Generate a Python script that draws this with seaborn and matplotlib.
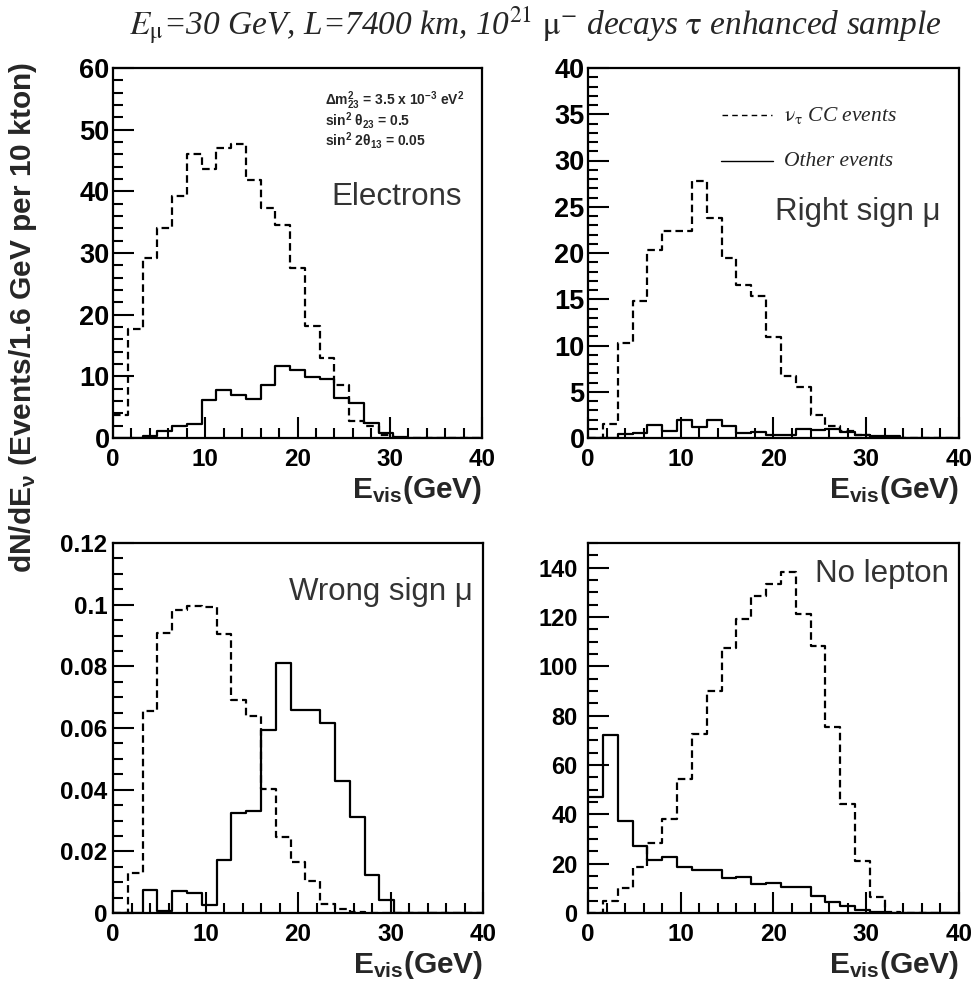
import pandas as pd
import matplotlib
matplotlib.use("Agg")
import matplotlib.pyplot as plt
from matplotlib.ticker import MultipleLocator, FuncFormatter
import seaborn as sns

# Visible-energy binning: 25 bins of 1.6 GeV from 0 to 40 GeV
bin_width = 1.6
n_bins = 25
edges = [round(k * bin_width, 4) for k in range(n_bins + 1)]

# Events per bin, nu_tau CC (dashed) and other events (solid)
electrons_tau = [3.8, 17.6, 29.2, 34.0, 39.3, 46.0, 43.7, 47.0, 47.6, 41.8,
                 37.3, 34.6, 27.5, 18.2, 13.0, 8.6, 2.7, 1.9, 0.5, 0.0,
                 0.0, 0.0, 0.0, 0.0, 0.0]
electrons_other = [0.0, 0.0, 0.4, 1.2, 2.0, 2.3, 6.2, 7.8, 6.9, 6.3,
                   8.6, 11.7, 11.1, 9.9, 9.6, 6.5, 5.7, 2.5, 0.8, 0.2,
                   0.0, 0.0, 0.0, 0.0, 0.0]

right_mu_tau = [0.0, 1.55, 10.3, 14.8, 20.3, 22.4, 22.4, 27.8, 23.8, 19.5,
                16.5, 15.3, 10.9, 6.7, 5.5, 2.5, 1.3, 0.8, 0.3, 0.1,
                0.0, 0.0, 0.0, 0.0, 0.0]
right_mu_other = [0.0, 0.0, 0.4, 0.55, 1.4, 0.8, 1.9, 1.2, 1.9, 1.3,
                  0.5, 0.65, 0.35, 0.35, 0.95, 0.85, 1.0, 0.7, 0.3, 0.2,
                  0.2, 0.0, 0.0, 0.0, 0.0]

wrong_mu_tau = [0.0, 0.013, 0.0654, 0.0908, 0.0984, 0.0995, 0.0993, 0.0906, 0.0692, 0.064,
                0.0402, 0.0245, 0.0164, 0.0103, 0.003, 0.0014, 0.0003, 0.0, 0.0, 0.0,
                0.0, 0.0, 0.0, 0.0, 0.0]
wrong_mu_other = [0.0, 0.0, 0.0074, 0.0005, 0.0070, 0.0065, 0.0027, 0.0173, 0.0324, 0.033,
                  0.0595, 0.081, 0.0657, 0.0657, 0.0616, 0.0429, 0.031, 0.0123, 0.0041, 0.0,
                  0.0, 0.0, 0.0, 0.0, 0.0]

no_lepton_tau = [0.0, 4.7, 10.3, 18.7, 28.5, 38.3, 54.2, 72.5, 89.8, 107.5,
                 119.0, 128.5, 133.2, 138.4, 121.4, 108.1, 75.6, 44.2, 21.1, 6.5,
                 0.4, 0.0, 0.0, 0.0, 0.0]
no_lepton_other = [47.2, 72.2, 37.4, 27.1, 21.4, 22.8, 18.7, 17.6, 17.3, 14.0,
                   14.6, 11.7, 12.2, 10.6, 10.6, 6.9, 4.5, 2.8, 1.4, 0.4,
                   0.0, 0.0, 0.0, 0.0, 0.0]

panel_names = ["Electrons", "Right sign μ", "Wrong sign μ", "No lepton"]
panel_tau = [electrons_tau, right_mu_tau, wrong_mu_tau, no_lepton_tau]
panel_other = [electrons_other, right_mu_other, wrong_mu_other, no_lepton_other]
y_max = [60, 40, 0.12, 150]
y_major = [10, 5, 0.02, 20]
y_minor = [2, 1, 0.005, 5]

centres = [0.5 * (a + b) for a, b in zip(edges[:-1], edges[1:])]
frames = []
for name, tau, other in zip(panel_names, panel_tau, panel_other):
    frames.append(pd.DataFrame({"panel": name, "sample": "tau", "evis": centres, "events": tau}))
    frames.append(pd.DataFrame({"panel": name, "sample": "other", "evis": centres, "events": other}))
hist = pd.concat(frames, ignore_index=True)

sns.set_theme(style="ticks")
plt.rcParams["font.family"] = ["Liberation Sans", "DejaVu Sans"]
plt.rcParams["mathtext.fontset"] = "custom"
plt.rcParams["mathtext.rm"] = "Liberation Sans:bold"
plt.rcParams["mathtext.it"] = "Liberation Sans:bold"
plt.rcParams["mathtext.bf"] = "Liberation Sans:bold"

W, H = 978, 992
fig = plt.figure(figsize=(W / 100, H / 100), dpi=100)

# axes boxes in pixel coordinates: left, top, right, bottom
boxes = [(113, 68, 482, 438), (588, 68, 959, 438),
         (113, 543, 483, 913), (588, 543, 959, 913)]
ytick_size = [19.5, 19.5, 17.5, 17]
ytick_pad = [2.5, 2.5, 4, 7.5]

label_pos = [(462, 197), (941, 212), (473, 592), (949, 574)]

fmt = FuncFormatter(lambda v, p: f"{v:g}")

dash = (0, (3.4, 1.9))
for i, name in enumerate(panel_names):
    l, t, r, b = boxes[i]
    ax = fig.add_axes([l / W, 1 - b / H, (r - l) / W, (b - t) / H])
    sub = hist[hist["panel"] == name]
    sns.histplot(data=sub[sub["sample"] == "tau"], x="evis", weights="events",
                 bins=edges, element="step", fill=False, color="black",
                 linewidth=1.6, linestyle=dash, ax=ax)
    sns.histplot(data=sub[sub["sample"] == "other"], x="evis", weights="events",
                 bins=edges, element="step", fill=False, color="black",
                 linewidth=1.6, ax=ax)
    ax.set_xlim(0, 40)
    ax.set_ylim(0, y_max[i])
    ax.xaxis.set_major_locator(MultipleLocator(10))
    ax.xaxis.set_minor_locator(MultipleLocator(2))
    ax.yaxis.set_major_locator(MultipleLocator(y_major[i]))
    ax.yaxis.set_minor_locator(MultipleLocator(y_minor[i]))
    ax.yaxis.set_major_formatter(fmt)
    ax.xaxis.set_major_formatter(fmt)
    ax.tick_params(which="both", direction="in", top=False, right=False, width=1.5,
                   colors="black")
    ax.tick_params(which="major", length=15)
    ax.tick_params(which="minor", length=7)
    ax.tick_params(axis="x", which="major", labelsize=17.5, pad=7.5)
    ax.tick_params(axis="y", which="major", labelsize=ytick_size[i], pad=ytick_pad[i])
    for lab in ax.get_xticklabels() + ax.get_yticklabels():
        lab.set_fontweight("bold")
    for s in ax.spines.values():
        s.set_linewidth(1.6)
        s.set_color("black")
    ax.set_xlabel("")
    ax.set_ylabel("")
    ax.text(1.0, -0.098, r"E$_{\mathrm{vis}}$(GeV)", transform=ax.transAxes,
            ha="right", va="top", fontsize=21.5, fontweight="bold")
    lx, ly = label_pos[i]
    fig.text(lx / W, 1 - ly / H, name, ha="right", va="center", fontsize=22.5,
             color="#333333")

# oscillation parameters, one block of three lines
params = [r"$\Delta\mathrm{m}^{2}_{23}$ = 3.5 x 10$^{-3}$ eV$^{2}$",
          r"sin$^{2}$ $\theta_{23}$ = 0.5",
          r"sin$^{2}$ 2$\theta_{13}$ = 0.05"]
fig.text(325 / W, 1 - 120 / H, "\n".join(params), ha="left", va="center",
         fontsize=10, fontweight="bold", linespacing=0.9)

# legend drawn inside the right-sign panel
serif_it = dict(family="Liberation Serif", style="italic", fontsize=15.5,
                math_fontfamily="stix")
fig.add_artist(plt.Line2D([722 / W, 772 / W], [1 - 115 / H] * 2, color="black",
                          lw=1.0, linestyle=(0, (4, 3))))
fig.add_artist(plt.Line2D([721 / W, 773 / W], [1 - 161 / H] * 2, color="black",
                          lw=1.0))
fig.text(784 / W, 1 - 115 / H, r"$\mathrm{\nu}_{\mathrm{\tau}}$ CC events",
         ha="left", va="center", **serif_it)
fig.text(784 / W, 1 - 161 / H, "Other events", ha="left", va="center", **serif_it)

# overall title and shared y label
fig.text(535 / W, 1 - 25 / H,
         r"$E_{\mathrm{\mu}}$=30 GeV, L=7400 km, 10$^{21}$ $\mathrm{\mu}^{-}$ decays $\mathrm{\tau}$ enhanced sample",
         ha="center", va="center", family="Liberation Serif", style="italic",
         fontsize=24, math_fontfamily="stix")
fig.text(23 / W, 1 - 62 / H, r"dN/dE$_{\nu}$ (Events/1.6 GeV per 10 kton)",
         rotation=90, ha="center", va="top", fontsize=21.5, fontweight="bold")

fig.savefig("out.png", dpi=100)
